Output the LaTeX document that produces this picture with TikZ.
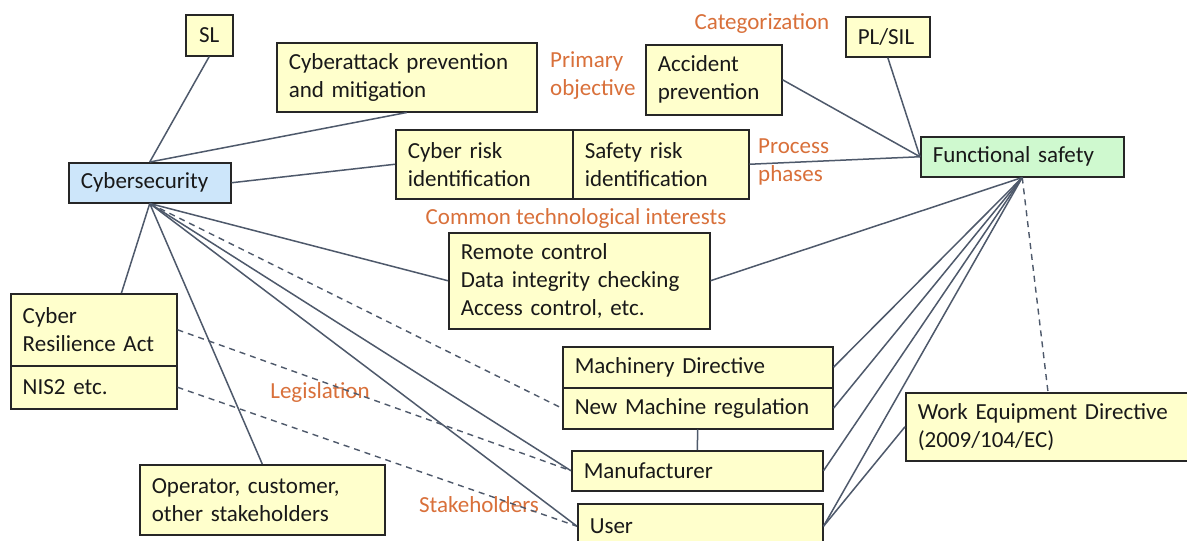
\documentclass[tikz,border=0pt]{standalone}
\usepackage{fontspec}
\setmainfont{Carlito}
\usetikzlibrary{calc}
\definecolor{boxyellow}{HTML}{FFFFCC}
\definecolor{boxblue}{HTML}{CDE6FA}
\definecolor{boxgreen}{HTML}{CFF9CF}
\definecolor{lblorange}{HTML}{D9703A}
\definecolor{linegray}{HTML}{4E596B}
\definecolor{bordergray}{HTML}{262626}
\tikzset{
  bx/.style={draw=bordergray, line width=1.5pt, fill=boxyellow, anchor=north west,
    inner xsep=12pt, inner ysep=0pt, align=left, text=black!90,
    font=\fontsize{23}{28}\selectfont},
  lbl/.style={text=lblorange, font=\fontsize{23}{28}\selectfont, align=left, inner sep=0pt},
  conn/.style={draw=linegray, line width=1.5pt},
  dconn/.style={draw=linegray, line width=1.4pt, dash pattern=on 6pt off 5pt},
}
\begin{document}
\begin{tikzpicture}[x=1pt,y=-1pt]
\useasboundingbox (0,0) rectangle (1187,541);
\fill[white] (0,0) rectangle (1187,541);
% boxes
\node[bx, text width=23pt, minimum height=41pt, align=center] (sl) at (185,14) {SL};
\node[bx, text width=236pt, minimum height=69pt] (cap) at (276,42) {Cyberattack prevention\\and mitigation};
\node[bx, text width=112pt, minimum height=70pt] (acc) at (645,44) {Accident\\prevention};
\node[bx, text width=60pt, minimum height=40pt] (pl) at (845,16) {PL/SIL};
\node[bx, text width=153pt, minimum height=69pt] (crisk) at (395,129) {Cyber risk\\identification};
\node[bx, text width=152pt, minimum height=69pt] (srisk) at (572,129) {Safety risk\\identification};
\node[bx, fill=boxgreen, text width=179pt, minimum height=40pt] (fs) at (920,136) {Functional safety};
\node[bx, fill=boxblue, text width=138pt, minimum height=40pt] (cyb) at (68,162) {Cybersecurity};
\node[bx, text width=237pt, minimum height=96pt] (rc) at (448,232) {Remote control\\Data integrity checking\\Access control, etc.};
\node[bx, text width=142pt, minimum height=72pt] (cra) at (10,293) {Cyber\\Resilience Act};
\node[bx, text width=142pt, minimum height=43pt] (nis) at (10,365) {NIS2 etc.};
\node[bx, text width=246pt, minimum height=41pt] (md) at (562,346) {Machinery Directive};
\node[bx, text width=246pt, minimum height=41pt] (nm) at (562,387) {New Machine regulation};
\node[bx, text width=227pt, minimum height=40pt] (man) at (571,450) {Manufacturer};
\node[bx, text width=266pt, minimum height=68pt] (we) at (905,392) {Work Equipment Directive\\(2009/104/EC)};
\node[bx, text width=221pt, minimum height=70pt] (op) at (139,464) {Operator, customer,\\other stakeholders};
\node[bx, text width=221pt, minimum height=45pt] (user) at (577,503) {User};
% labels
\node[lbl, anchor=west] (lprim) at (550,76) {Primary\\objective};
\node[lbl] (lcat) at (762,24) {Categorization};
\node[lbl, anchor=west] (lproc) at (758,162) {Process\\phases};
\node[lbl] (lcom) at (576,218) {Common technological interests};
\node[lbl] (lleg) at (320,392) {Legislation};
\node[lbl] (lstk) at (479,505) {Stakeholders};
% connectors from Cybersecurity
\draw[conn] (cyb.north) -- (sl.south);
\draw[conn] (cyb.north) -- (cap.south);
\draw[conn] (cyb.east) -- (crisk.west);
\draw[conn] (cyb.south) -- (cra.53);
\draw[conn] (cyb.south) -- (op.north);
\draw[conn] (cyb.south) -- (rc.west);
\draw[dconn] (cyb.south) -- (nm.west);
\draw[conn] (cyb.south) -- (man.west);
\draw[conn] (cyb.south) -- (user.west);
\draw[dconn] (cra.east) -- (man.west);
\draw[dconn] (nis.east) -- (user.west);
% connectors to Functional safety
\draw[conn] (acc.east) -- (fs.west);
\draw[conn] (pl.south) -- (fs.west);
\draw[conn] (srisk.east) -- (fs.west);
\draw[conn] (rc.east) -- (fs.south);
\draw[conn] (md.east) -- (fs.south);
\draw[conn] (nm.east) -- (fs.south);
\draw[conn] (man.east) -- (fs.south);
\draw[conn] (user.east) -- (fs.south);
\coordinate (wetop) at ($(we.north west)+(143,0)$);
\draw[dconn] (fs.south) -- (wetop);
\draw[conn] (user.east) -- (we.west);
\draw[conn] (nm.south) -- (man.north);
\end{tikzpicture}
\end{document}
